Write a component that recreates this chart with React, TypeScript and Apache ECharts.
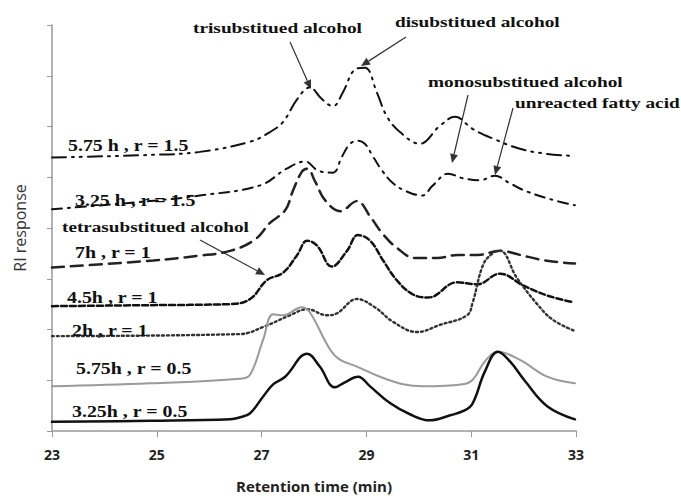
import React, { useEffect, useRef } from "react";
import * as echarts from "echarts";

const xTickValues = [23, 25, 27, 29, 31, 33];

const s575h_r15 = [
  [23.0, 5.39], [24.87, 5.44], [25.82, 5.5], [26.78, 5.7], [27.16, 5.89], [27.41, 6.09],
  [27.68, 6.54], [27.92, 6.77], [28.15, 6.54], [28.36, 6.4], [28.55, 6.67], [28.78, 7.12],
  [28.97, 7.16], [29.2, 6.67], [29.39, 6.2], [29.64, 5.89], [30.02, 5.66], [30.4, 6.01],
  [30.69, 6.19], [31.03, 5.95], [31.42, 5.76], [31.93, 5.56], [32.45, 5.46], [32.98, 5.42],
];

const s325h_r15 = [
  [23.0, 4.37], [24.87, 4.53], [25.82, 4.64], [26.97, 4.84], [27.48, 5.17], [27.83, 5.31],
  [28.08, 5.13], [28.36, 5.09], [28.53, 5.4], [28.69, 5.66], [28.84, 5.72], [28.97, 5.66],
  [29.13, 5.4], [29.3, 5.13], [29.51, 4.88], [29.77, 4.72], [30.06, 4.64], [30.27, 4.84],
  [30.56, 5.07], [30.84, 4.98], [31.17, 4.94], [31.45, 5.03], [31.74, 4.88], [32.06, 4.72],
  [32.64, 4.53], [32.98, 4.45],
];

const s7h_r1 = [
  [23.0, 3.22], [24.93, 3.36], [25.77, 3.45], [26.4, 3.55], [26.87, 3.77], [27.16, 4.1],
  [27.45, 4.35], [27.6, 4.74], [27.77, 5.11], [27.87, 5.17], [28.02, 4.92], [28.21, 4.55],
  [28.5, 4.33], [28.82, 4.53], [29.07, 4.23], [29.3, 3.9], [29.58, 3.61], [29.93, 3.41],
  [30.35, 3.41], [30.75, 3.47], [31.13, 3.47], [31.55, 3.55], [31.93, 3.47], [32.31, 3.38],
  [32.73, 3.32], [32.98, 3.3],
];

const s45h_r1 = [
  [23.0, 2.46], [24.87, 2.48], [26.4, 2.5], [26.78, 2.6], [27.1, 2.97], [27.41, 3.12],
  [27.68, 3.47], [27.87, 3.75], [28.06, 3.65], [28.34, 3.24], [28.63, 3.55], [28.84, 3.86],
  [29.07, 3.75], [29.32, 3.36], [29.58, 2.97], [29.89, 2.69], [30.18, 2.63], [30.73, 2.93],
  [31.11, 2.89], [31.55, 3.1], [31.99, 2.87], [32.45, 2.67], [32.94, 2.54],
];

const s2h_r1 = [
  [23.0, 1.87], [26.59, 1.91], [27.03, 2.05], [27.54, 2.28], [27.87, 2.4], [28.25, 2.28],
  [28.44, 2.32], [28.82, 2.6], [29.16, 2.44], [29.51, 2.15], [29.97, 1.95], [30.4, 2.09],
  [30.92, 2.28], [31.03, 2.54], [31.23, 3.28], [31.42, 3.51], [31.55, 3.55], [31.87, 3.02],
  [32.26, 2.5], [32.56, 2.19], [32.98, 1.97],
];

const s575h_r05 = [
  [23.0, 0.88], [24.87, 0.94], [26.59, 1.03], [26.78, 1.11], [27.03, 1.8], [27.22, 2.3],
  [27.41, 2.28], [27.77, 2.44], [27.92, 2.34], [28.31, 1.6], [28.5, 1.4], [28.82, 1.27],
  [29.26, 1.07], [29.7, 0.92], [30.08, 0.88], [30.84, 0.92], [31.03, 1.01], [31.26, 1.37],
  [31.51, 1.56], [31.93, 1.4], [32.45, 1.07], [32.98, 0.94],
];

const s325h_r05 = [
  [23.0, 0.18], [24.87, 0.2], [26.4, 0.23], [26.59, 0.27], [26.78, 0.35], [27.03, 0.68],
  [27.22, 0.92], [27.45, 1.07], [27.87, 1.52], [28.11, 1.27], [28.4, 0.86], [28.59, 0.96],
  [28.84, 1.07], [29.07, 0.88], [29.45, 0.55], [29.83, 0.33], [30.21, 0.21], [30.6, 0.31],
  [30.84, 0.39], [31.02, 0.53], [31.26, 1.17], [31.51, 1.56], [31.74, 1.37], [32.03, 0.98],
  [32.45, 0.49], [32.98, 0.23],
];

const seriesLabels = [
  "5.75 h , r = 1.5",
  "3.25 h , r = 1.5",
  "7h , r = 1",
  "4.5h , r = 1",
  "2h , r = 1",
  "5.75h , r = 0.5",
  "3.25h , r = 0.5",
];

const annotationTexts = [
  "trisubstitued alcohol",
  "disubstitued alcohol",
  "monosubstitued alcohol",
  "unreacted fatty acid",
  "tetrasubstitued alcohol",
];

const SERIF = "'Liberation Serif', 'DejaVu Serif', serif";
const SANS = "'Open Sans', 'Liberation Sans', sans-serif";

function arrow(x1: number, y1: number, x2: number, y2: number) {
  const ang = Math.atan2(y2 - y1, x2 - x1);
  const len = 9;
  const w = 4;
  const bx = x2 - len * Math.cos(ang);
  const by = y2 - len * Math.sin(ang);
  const px = -Math.sin(ang) * w;
  const py = Math.cos(ang) * w;
  return [
    {
      type: "line",
      shape: { x1, y1, x2: bx, y2: by },
      style: { stroke: "#333", lineWidth: 1.2 },
      silent: true,
    },
    {
      type: "polygon",
      shape: { points: [[x2, y2], [bx + px, by + py], [bx - px, by - py]] },
      style: { fill: "#333" },
      silent: true,
    },
  ];
}

function label(text: string, left: number, cy: number, size: number, sx: number) {
  return {
    type: "text",
    x: left,
    y: cy,
    scaleX: sx,
    z: 10,
    style: {
      text,
      fill: "#111",
      font: `bold ${size}px ${SERIF}`,
      verticalAlign: "middle",
      align: "left",
    },
    silent: true,
  };
}

export default function App() {
  const ref = useRef<HTMLDivElement>(null);
  useEffect(() => {
    if (!ref.current) return;
    const chart = echarts.init(ref.current, undefined, { renderer: "svg" });
    const mk = (name: string, data: number[][], color: string, width: number, type: any) => ({
      name,
      type: "line",
      data,
      showSymbol: false,
      smooth: 0.4,
      lineStyle: { color, width, type, cap: "round" },
      silent: true,
    });
    chart.setOption({
      animation: false,
      backgroundColor: "#fff",
      grid: { left: 52, right: 105, top: 25, bottom: 63 },
      xAxis: {
        type: "value",
        min: 23,
        max: 33,
        interval: 2,
        name: "Retention time (min)",
        nameLocation: "middle",
        nameGap: 47,
        nameTextStyle: { fontFamily: SANS, fontWeight: "bold", fontSize: 15, color: "#222" },
        axisLine: { lineStyle: { color: "#999", width: 1.5 } },
        axisTick: { show: true, length: 6, lineStyle: { color: "#999" } },
        axisLabel: {
          fontFamily: SANS,
          fontWeight: "bold",
          fontSize: 14,
          color: "#222",
          margin: 16,
          formatter: (v: number) => (xTickValues.includes(v) ? String(v) : ""),
        },
        splitLine: { show: false },
      },
      yAxis: {
        type: "value",
        min: 0,
        max: 8,
        interval: 1,
        name: "RI response",
        nameLocation: "middle",
        nameGap: 24,
        nameRotate: 90,
        nameTextStyle: { fontFamily: SANS, fontSize: 16, color: "#333" },
        axisLine: { show: true, lineStyle: { color: "#999", width: 1.5 } },
        axisTick: { show: true, length: 5, lineStyle: { color: "#999" } },
        axisLabel: { show: false },
        splitLine: { show: false },
      },
      series: [
        mk(seriesLabels[0], s575h_r15, "#111", 2, [14, 6, 2, 6, 2, 6]),
        mk(seriesLabels[1], s325h_r15, "#111", 2, [10, 6, 2, 6]),
        mk(seriesLabels[2], s7h_r1, "#222", 2.5, [12, 7]),
        mk(seriesLabels[3], s45h_r1, "#111", 2.5, [6, 3]),
        mk(seriesLabels[4], s2h_r1, "#333", 2.4, [2, 3]),
        mk(seriesLabels[5], s575h_r05, "#9a9a9a", 2, "solid"),
        mk(seriesLabels[6], s325h_r05, "#111", 2.5, "solid"),
      ],
      graphic: [
        label(seriesLabels[0], 68, 145, 17, 1.17),
        label(seriesLabels[1], 75, 200, 17, 1.17),
        label(seriesLabels[2], 75, 252, 17, 1.17),
        label(seriesLabels[3], 67, 297, 17, 1.17),
        label(seriesLabels[4], 72, 330, 17, 1.17),
        label(seriesLabels[5], 76, 368, 17, 1.17),
        label(seriesLabels[6], 72, 411, 17, 1.17),
        label(annotationTexts[0], 193, 28, 14, 1.38),
        label(annotationTexts[1], 395, 22, 14, 1.38),
        label(annotationTexts[2], 428, 82, 14, 1.38),
        label(annotationTexts[3], 515, 103, 14, 1.38),
        label(annotationTexts[4], 62, 227, 14, 1.37),
        ...arrow(290, 42, 311, 89),
        ...arrow(406, 37, 361, 66),
        ...arrow(468, 95, 452, 163),
        ...arrow(513, 108, 495, 175),
        ...arrow(200, 240, 265, 275),
      ],
    });
    return () => chart.dispose();
  }, []);
  return (
    <div
      ref={ref}
      style={{ position: "fixed", left: 0, top: 0, width: 681, height: 498, background: "#fff" }}
    />
  );
}
